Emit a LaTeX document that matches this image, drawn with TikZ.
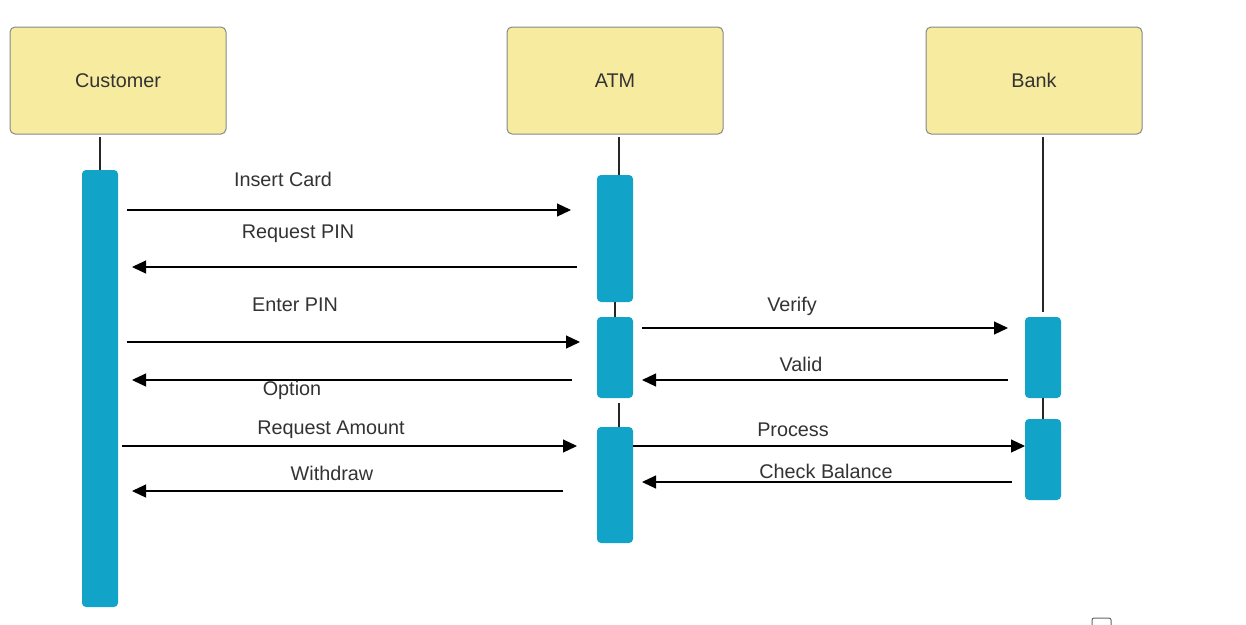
\documentclass[tikz,border=0pt]{standalone}
\usepackage{fontspec}
\setmainfont{Liberation Sans}
\usetikzlibrary{arrows.meta}
\definecolor{hdr}{HTML}{F7EBA0}
\definecolor{hdrline}{HTML}{888888}
\definecolor{act}{HTML}{12A4C8}
\definecolor{txt}{HTML}{333333}
\tikzset{
  header/.style={draw=hdrline, fill=hdr, rounded corners=5pt, line width=1pt, minimum width=216pt, minimum height=107pt, inner sep=0pt, text=txt, font=\fontsize{19.8}{22}\selectfont},
  actbar/.style={fill=act, draw=none, rounded corners=4pt, minimum width=36pt, inner sep=0pt},
  lifeline/.style={line width=1.1pt, draw=black!85},
  msg/.style={line width=1.1pt, -{Triangle[length=14pt,width=13pt]}},
  lbl/.style={text=txt, font=\fontsize{19.8}{22}\selectfont, inner sep=0pt}
}
\begin{document}
\begin{tikzpicture}[x=1pt,y=-1pt]
\useasboundingbox[fill=white] (0,0) rectangle (1246,624);
% headers
\node[header] (cust) at (118,80.5) {Customer};
\node[header] (atm) at (615,80.5) {ATM};
\node[header] (bank) at (1034,80.5) {Bank};
% activation bars
\node[actbar, minimum height=437pt] (c1) at (100,388.5) {};
\node[actbar, minimum height=127pt] (a1) at (615,238.5) {};
\node[actbar, minimum height=81pt] (a2) at (615,357.5) {};
\node[actbar, minimum height=116pt] (a3) at (615,485) {};
\node[actbar, minimum height=81pt] (b1) at (1043,357.5) {};
\node[actbar, minimum height=81pt] (b2) at (1043,459.5) {};
% lifelines
\draw[lifeline] (100,137) -- (100,170);
\draw[lifeline] (619,137) -- (619,175);
\draw[lifeline] (615,302) -- (615,317);
\draw[lifeline] (619,403) -- (619,427);
\draw[lifeline] (1043,137) -- (1043,312);
\draw[lifeline] (1043,398) -- (1043,419);
% coordinates for message ends
\coordinate (m1s) at (127,210); \coordinate (m1e) at (571,210);
\coordinate (m2s) at (577,267); \coordinate (m2e) at (132,267);
\coordinate (m3s) at (127,342); \coordinate (m3e) at (580,342);
\coordinate (m4s) at (642,328); \coordinate (m4e) at (1008,328);
\coordinate (m5s) at (1008,380); \coordinate (m5e) at (642,380);
\coordinate (m6s) at (572,380); \coordinate (m6e) at (132,380);
\coordinate (m7s) at (122,446); \coordinate (m7e) at (577,446);
\coordinate (m8s) at (633,446); \coordinate (m8e) at (1025,446);
\coordinate (m9s) at (1012,482); \coordinate (m9e) at (642,482);
\coordinate (m10s) at (563,491); \coordinate (m10e) at (132,491);
\draw[msg] (m1s) -- (m1e);
\draw[msg] (m2s) -- (m2e);
\draw[msg] (m3s) -- (m3e);
\draw[msg] (m4s) -- (m4e);
\draw[msg] (m5s) -- (m5e);
\draw[msg] (m6s) -- (m6e);
\draw[msg] (m7s) -- (m7e);
\draw[msg] (m8s) -- (m8e);
\draw[msg] (m9s) -- (m9e);
\draw[msg] (m10s) -- (m10e);
% labels
\node[lbl] (l1) at (283,179) {Insert Card};
\node[lbl] (l2) at (298,234) {Request PIN};
\node[lbl] (l3) at (295,305) {Enter PIN};
\node[lbl] (l4) at (792,306) {Verify};
\node[lbl] (l5) at (801,364) {Valid};
\node[lbl] (l6) at (292,390) {Option};
\node[lbl] (l7) at (331,430) {Request Amount};
\node[lbl] (l8) at (793,430) {Process};
\node[lbl] (l9) at (826,471) {Check Balance};
\node[lbl] (l10) at (332,473) {Withdraw};
% small box at bottom edge
\begin{scope}
\clip (0,0) rectangle (1246,624);
\node[draw=black!60, line width=1pt, rounded corners=2pt, minimum width=19pt, minimum height=14pt, inner sep=0pt] (sb) at (1101.5,625) {};
\end{scope}
\end{tikzpicture}
\end{document}
